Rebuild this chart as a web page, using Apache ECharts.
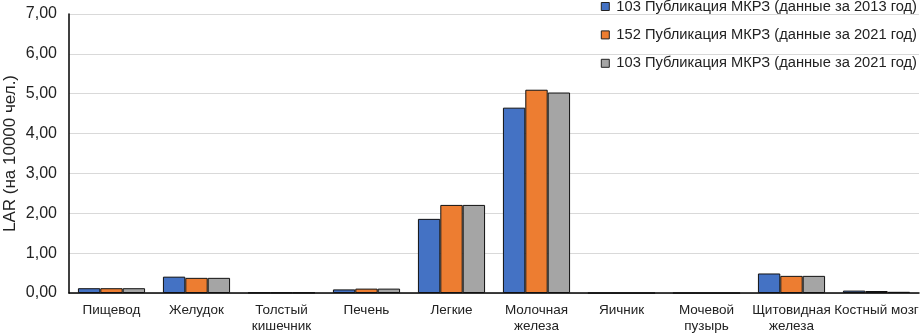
<!DOCTYPE html>
<html><head><meta charset="utf-8">
<script src="https://cdn.jsdelivr.net/npm/echarts@6/dist/echarts.min.js"></script>
<style>html,body{margin:0;padding:0;background:#fff}#c{width:923px;height:333px}</style>
</head><body><div id="c"></div>
<script>
const categories = ['Пищевод','Желудок','Толстый\nкишечник','Печень','Легкие','Молочная\nжелеза','Яичник','Мочевой\nпузырь','Щитовидная\nжелеза','Костный мозг'];
const seriesNames = ['103 Публикация МКРЗ (данные за 2013 год)','152 Публикация МКРЗ (данные за 2021 год)','103 Публикация МКРЗ (данные за 2021 год)'];
const s2013 = [0.12, 0.41, 0.01, 0.09, 1.86, 4.65, 0, 0, 0.49, 0.06];
const s152 = [0.12, 0.38, 0.01, 0.11, 2.21, 5.10, 0, 0, 0.43, 0.05];
const s103 = [0.12, 0.38, 0.01, 0.11, 2.21, 5.03, 0, 0, 0.43, 0.03];
const colors = ['#4472c4','#ed7d31','#a5a5a5'];
const font = 'Liberation Sans, Arial, sans-serif';
const chart = echarts.init(document.getElementById('c'));
chart.setOption({
  animation:false,
  grid:{left:69,right:4,top:14,bottom:40,containLabel:false,outerBoundsMode:'none'},
  legend:{
    orient:'vertical', right:6, top:-1, padding:0, itemGap:13.4, itemWidth:8, itemHeight:8,
    icon:'rect',
    textStyle:{fontFamily:font,fontSize:14.7,color:'#222',padding:[0,0,0,2]},
    itemStyle:{borderColor:'#222',borderWidth:1},
    data:seriesNames
  },
  xAxis:{type:'category',data:categories,
    axisLine:{lineStyle:{color:'#000',width:1.5}},
    axisTick:{show:false},
    axisLabel:{fontFamily:font,fontSize:13.5,color:'#222',interval:0,lineHeight:16,margin:9}
  },
  yAxis:{type:'value',min:0,max:7,interval:1,
    name:'LAR (на 10000 чел.)',nameLocation:'middle',nameGap:50,nameMoveOverlap:false,
    nameTextStyle:{fontFamily:font,fontSize:17,color:'#222'},
    axisLine:{show:true,lineStyle:{color:'#000',width:1.5}},
    axisTick:{show:false},
    splitLine:{lineStyle:{color:'#d9d9d9',width:1}},
    axisLabel:{fontFamily:font,fontSize:16,color:'#222',formatter:v=>v.toFixed(2).replace('.',','),margin:12}
  },
  series:[s2013,s152,s103].map((d,i)=>({
    name:seriesNames[i],type:'bar',data:d,barGap:'0%',barCategoryGap:'21%',
    itemStyle:{color:colors[i],borderColor:'#111',borderWidth:1}
  }))
});
</script></body></html>
